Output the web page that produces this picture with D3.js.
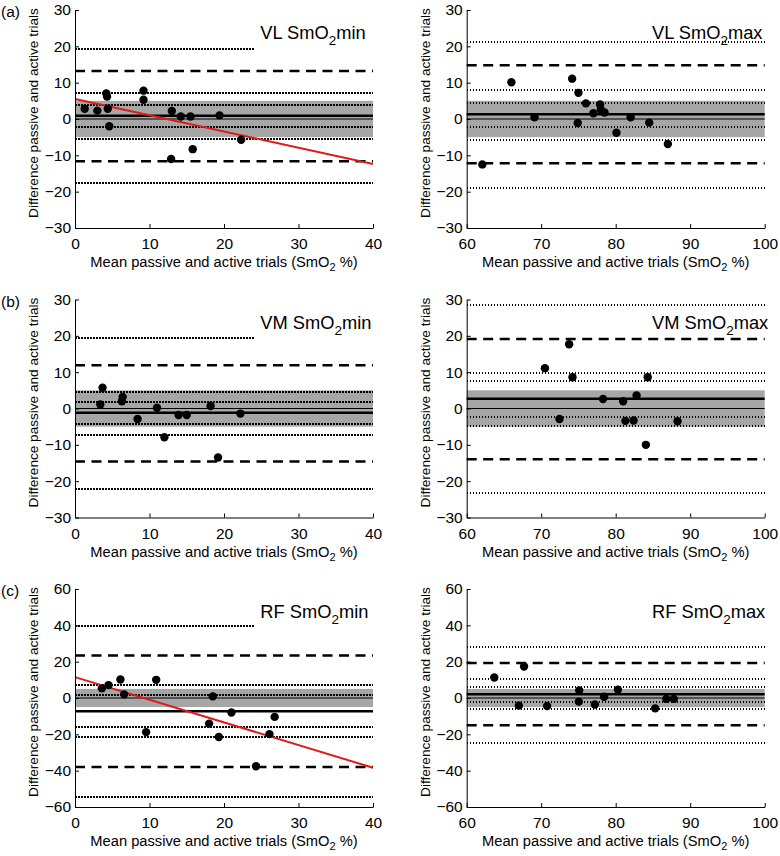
<!DOCTYPE html>
<html><head><meta charset="utf-8">
<script src="https://cdn.jsdelivr.net/npm/d3@7"></script>
<style>body{margin:0;background:#fff} svg text{font-family:"Liberation Sans",Arial,sans-serif;fill:#000}</style>
</head><body><svg id="chart" width="780" height="856"></svg>
<script>
// ---------- DATA ----------
const xTicksMin = [0, 10, 20, 30, 40];
const xTicksMax = [60, 70, 80, 90, 100];
const yTicksSmall = [-30, -20, -10, 0, 10, 20, 30];
const yTicksLarge = [-60, -40, -20, 0, 20, 40, 60];
const bandLimits = [-5, 5];
const topDottedEndMin = 24.2; // top dotted line stops short in the "min" panels

// (a) VL SmO2min
const vlMinX = [1.3, 3.0, 4.2, 4.3, 4.4, 4.6, 9.2, 9.2, 13.0, 12.9, 14.2, 15.5, 15.8, 19.4, 22.3];
const vlMinY = [2.8, 2.3, 7.0, 6.2, 2.8, -2.0, 7.8, 5.3, 2.2, -11.0, 0.7, 0.7, -8.3, 1.0, -5.7];
const vlMinMean = 0.9;
const vlMinDashed = [13.2, -11.6];
const vlMinDotted = [19.3, 7.1, 3.9, -2.3, -5.5, -17.5];
const vlMinReg = [[0, 5.5], [40, -12.4]];

// (a) VL SmO2max
const vlMaxX = [62.1, 66.0, 69.1, 74.15, 75.0, 74.9, 76.0, 77.0, 77.9, 78.0, 78.5, 80.1, 82.0, 84.5, 87.0];
const vlMaxY = [-12.5, 10.1, 0.5, 11.1, 7.2, -1.1, 4.3, 1.6, 4.0, 2.6, 1.8, -3.8, 0.5, -1.0, -6.9];
const vlMaxMean = 1.3;
const vlMaxDashed = [14.8, -12.2];
const vlMaxDotted = [21.3, 8.0, 4.5, -2.1, -5.7, -19.0];

// (b) VM SmO2min
const vmMinX = [3.4, 3.7, 6.3, 6.4, 8.4, 11.0, 12.0, 13.9, 15.0, 18.2, 19.2, 22.2];
const vmMinY = [1.1, 5.7, 2.0, 3.2, -2.9, 0.2, -7.9, -1.8, -1.8, 0.7, -13.5, -1.4];
const vmMinMean = -1.2;
const vmMinDashed = [11.9, -14.6];
const vmMinDotted = [19.3, 4.5, 1.9, -4.4, -7.2, -22.1];

// (b) VM SmO2max
const vmMaxX = [70.5, 72.45, 73.75, 74.2, 78.3, 81.0, 81.3, 82.4, 82.8, 84.05, 84.3, 88.3];
const vmMaxY = [11.1, -2.9, 17.7, 8.6, 2.6, 2.0, -3.4, -3.3, 3.6, -10.0, 8.6, -3.5];
const vmMaxMean = 2.7;
const vmMaxDashed = [19.1, -14.0];
const vmMaxDotted = [28.4, 9.9, 7.7, -2.3, -4.8, -23.2];

// (c) RF SmO2min
const rfMinX = [3.6, 4.5, 6.1, 6.6, 9.55, 10.9, 18.0, 18.5, 19.3, 21.0, 24.3, 26.1, 26.8];
const rfMinY = [5.3, 7.1, 10.2, 2.0, -18.8, 10.0, -14.1, 0.9, -21.5, -8.0, -37.6, -19.9, -10.4];
const rfMinMean = -7.3;
const rfMinDashed = [23.4, -38.0];
const rfMinDotted = [39.8, 7.1, 1.5, -16.2, -21.5, -54.6];
const rfMinReg = [[0, 11.5], [40, -38.4]];

// (c) RF SmO2max
const rfMaxX = [63.7, 67.0, 67.7, 70.8, 75.05, 75.1, 77.2, 78.45, 80.3, 85.3, 86.8, 87.8];
const rfMaxY = [11.3, -4.2, 17.3, -4.4, -2.0, 4.2, -3.6, 0.7, 4.6, -5.7, -0.5, -0.5];
const rfMaxMean = 2.0;
const rfMaxDashed = [19.3, -15.0];
const rfMaxDotted = [28.1, 10.2, 6.2, -2.2, -5.8, -24.5];

// ---------- LAYOUT ----------
const colX = [75, 466.7];
const rowY = [10, 299.5, 589];
const W = 298, H = 218;

const panels = [
  {label: "(a)", muscle: "VL", kind: "min", row: 0, col: 0, xs: vlMinX, ys: vlMinY, mean: vlMinMean, dashed: vlMinDashed, dotted: vlMinDotted, reg: vlMinReg},
  {label: null,  muscle: "VL", kind: "max", row: 0, col: 1, xs: vlMaxX, ys: vlMaxY, mean: vlMaxMean, dashed: vlMaxDashed, dotted: vlMaxDotted, reg: null},
  {label: "(b)", muscle: "VM", kind: "min", row: 1, col: 0, xs: vmMinX, ys: vmMinY, mean: vmMinMean, dashed: vmMinDashed, dotted: vmMinDotted, reg: null},
  {label: null,  muscle: "VM", kind: "max", row: 1, col: 1, xs: vmMaxX, ys: vmMaxY, mean: vmMaxMean, dashed: vmMaxDashed, dotted: vmMaxDotted, reg: null},
  {label: "(c)", muscle: "RF", kind: "min", row: 2, col: 0, xs: rfMinX, ys: rfMinY, mean: rfMinMean, dashed: rfMinDashed, dotted: rfMinDotted, reg: rfMinReg},
  {label: null,  muscle: "RF", kind: "max", row: 2, col: 1, xs: rfMaxX, ys: rfMaxY, mean: rfMaxMean, dashed: rfMaxDashed, dotted: rfMaxDotted, reg: null}
];

const svg = d3.select("#chart");

panels.forEach(p => {
  const g = svg.append("g").attr("transform", `translate(${colX[p.col]},${rowY[p.row]})`);
  const xTicks = p.col === 0 ? xTicksMin : xTicksMax;
  const yTicks = p.row === 2 ? yTicksLarge : yTicksSmall;
  const x = d3.scaleLinear().domain(d3.extent(xTicks)).range([0, W]);
  const y = d3.scaleLinear().domain(d3.extent(yTicks)).range([H, 0]);
  const [x0, x1] = x.domain();

  // grey band
  g.append("rect")
    .attr("x", x(x0)).attr("width", x(x1) - x(x0))
    .attr("y", y(bandLimits[1])).attr("height", y(bandLimits[0]) - y(bandLimits[1]))
    .attr("fill", "#a6a6a6");

  // zero line
  g.append("line").attr("x1", x(x0)).attr("x2", x(x1)).attr("y1", y(0)).attr("y2", y(0))
    .attr("stroke", "#000").attr("stroke-width", 1.2);

  // dotted lines
  g.selectAll("line.dot").data(p.dotted).join("line").attr("class", "dot")
    .attr("x1", x(x0))
    .attr("x2", (d, i) => (i === 0 && p.kind === "min") ? x(topDottedEndMin) : x(x1))
    .attr("y1", d => y(d)).attr("y2", d => y(d))
    .attr("stroke", "#000").attr("stroke-width", 2).attr("stroke-dasharray", "1.5,1.5")
    .attr("shape-rendering", "crispEdges");

  // dashed lines
  g.selectAll("line.dash").data(p.dashed).join("line").attr("class", "dash")
    .attr("x1", x(x0)).attr("x2", x(x1))
    .attr("y1", d => y(d)).attr("y2", d => y(d))
    .attr("stroke", "#000").attr("stroke-width", 2.5).attr("stroke-dasharray", "10,6.5");

  // mean line
  g.append("line").attr("x1", x(x0)).attr("x2", x(x1)).attr("y1", y(p.mean)).attr("y2", y(p.mean))
    .attr("stroke", "#000").attr("stroke-width", 2.5);

  // regression line
  if (p.reg) {
    g.append("path").datum(p.reg)
      .attr("d", d3.line().x(d => x(d[0])).y(d => y(d[1])))
      .attr("fill", "none").attr("stroke", "#e0191b").attr("stroke-width", 2);
  }

  // points
  g.selectAll("circle").data(p.xs.map((v, i) => [v, p.ys[i]])).join("circle")
    .attr("cx", d => x(d[0])).attr("cy", d => y(d[1])).attr("r", 4.2).attr("fill", "#000");

  // axes
  const ax = g.append("g").attr("transform", `translate(0,${H})`)
    .call(d3.axisBottom(x).tickValues(xTicks).tickSizeInner(-4).tickSizeOuter(0).tickPadding(10).tickFormat(d3.format("d")));
  const ay = g.append("g")
    .call(d3.axisLeft(y).tickValues(yTicks).tickSizeInner(-4).tickSizeOuter(0).tickPadding(4).tickFormat(d3.format("d")));
  [ax, ay].forEach(a => {
    a.attr("font-family", null).attr("font-size", 15.5);
    a.selectAll("path,line").attr("stroke", "#000").attr("stroke-width", 1);
  });

  // title
  const t = g.append("text").attr("x", W * 0.622).attr("y", 29).attr("font-size", 18.3);
  t.append("tspan").text(p.muscle + " SmO");
  t.append("tspan").text("2").attr("font-size", 13.5).attr("dy", 6);
  t.append("tspan").text(p.kind).attr("dy", -6);

  // x label
  const xl = g.append("text").attr("x", W / 2).attr("y", H + 39).attr("text-anchor", "middle").attr("font-size", 14.7);
  xl.append("tspan").text("Mean passive and active trials (SmO");
  xl.append("tspan").text("2").attr("font-size", 11).attr("dy", 4);
  xl.append("tspan").text(" %)").attr("dy", -4);

  // y label
  g.append("text").attr("transform", `translate(-37,${H / 2 - 6}) rotate(-90)`)
    .attr("text-anchor", "middle").attr("font-size", 13.6)
    .text("Difference passive and active trials");

  // panel label
  if (p.label) {
    svg.append("text").attr("x", 1).attr("y", rowY[p.row] + 7).attr("font-size", 15.5).text(p.label);
  }
});
</script>
</body></html>
